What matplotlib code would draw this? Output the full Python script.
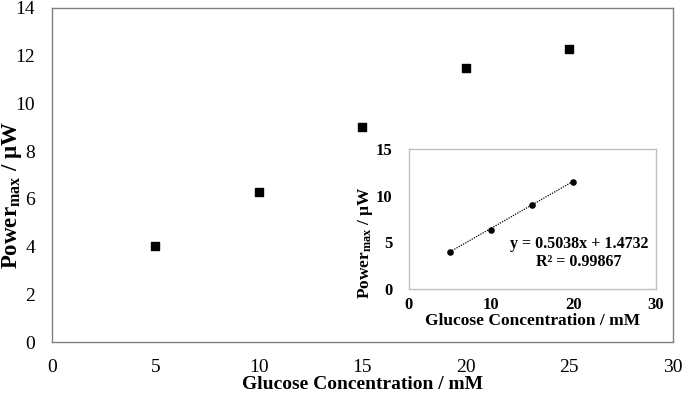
import matplotlib
matplotlib.use('Agg')
import matplotlib.pyplot as plt
import numpy as np

plt.rcParams['font.family'] = 'Liberation Serif'
plt.rcParams['mathtext.fontset'] = 'custom'
plt.rcParams['mathtext.rm'] = 'Liberation Serif'
plt.rcParams['mathtext.bf'] = 'Liberation Serif:bold'
plt.rcParams['mathtext.it'] = 'Liberation Serif:italic'

# data
glucose = [5, 10, 15, 20, 25]
power = [4.02, 6.29, 9.01, 11.48, 12.28]
glucose_fit = [5, 10, 15, 20]
power_fit = [4.02, 6.29, 9.01, 11.48]
slope, intercept = 0.5038, 1.4732
eq_text = "y = 0.5038x + 1.4732\nR² = 0.99867"

fig = plt.figure(figsize=(6.86, 3.96), dpi=100)

# ── main axes ──────────────────────────────────────
ax = fig.add_axes([0.0758, 0.136, 0.905, 0.844])
ax.scatter(glucose, power, marker='s', s=34, color='black', zorder=3)
ax.set_xlim(0, 30)
ax.set_ylim(0, 14)
ax.set_xticks(range(0, 31, 5))
ax.set_yticks(range(0, 15, 2))
ax.tick_params(length=0, labelsize=14)
ax.tick_params(axis='y', pad=12)
ax.tick_params(axis='x', pad=12)
for s in ax.spines.values():
    s.set_color('#808080')
    s.set_linewidth(1.0)
ax.set_xlabel('Glucose Concentration / mM', fontsize=14, fontweight='bold', labelpad=0)
ax.set_ylabel(r'Power$_{\mathbf{max}}$ / µW', fontsize=16.5, fontweight='bold')
ax.yaxis.set_label_coords(-0.045, 0.44)

# ── inset ──────────────────────────────────────────
ins = fig.add_axes([0.596, 0.270, 0.360, 0.354])
ins.scatter(glucose_fit, power_fit, marker='o', s=14, color='black', zorder=3)
xl = np.array([glucose_fit[0], glucose_fit[-1]])
ins.plot(xl, slope * xl + intercept, color='black', linestyle=(0, (1, 1)), linewidth=0.9)
ins.set_xlim(0, 30)
ins.set_ylim(0, 15)
ins.set_xticks(range(0, 31, 10))
ins.set_yticks(range(0, 16, 5))
ins.tick_params(length=0, labelsize=12)
ins.tick_params(axis='y', pad=12)
ins.tick_params(axis='x', pad=6)
for lab in ins.get_xticklabels() + ins.get_yticklabels():
    lab.set_fontweight('bold')
for s in ins.spines.values():
    s.set_color('#bfbfbf')
    s.set_linewidth(1.0)
ins.set_xlabel('Glucose Concentration / mM', fontsize=12.5, fontweight='bold', labelpad=0)
ins.set_ylabel(r'Power$_{\mathbf{max}}$ / µW', fontsize=12.5, fontweight='bold')
ins.yaxis.set_label_coords(-0.138, 0.33)
ins.text(0.97, 0.257, eq_text, transform=ins.transAxes, ha='right', va='center',
         fontsize=11.5, fontweight='bold', multialignment='center', linespacing=1.1)

fig.savefig('out.png', dpi=100)
